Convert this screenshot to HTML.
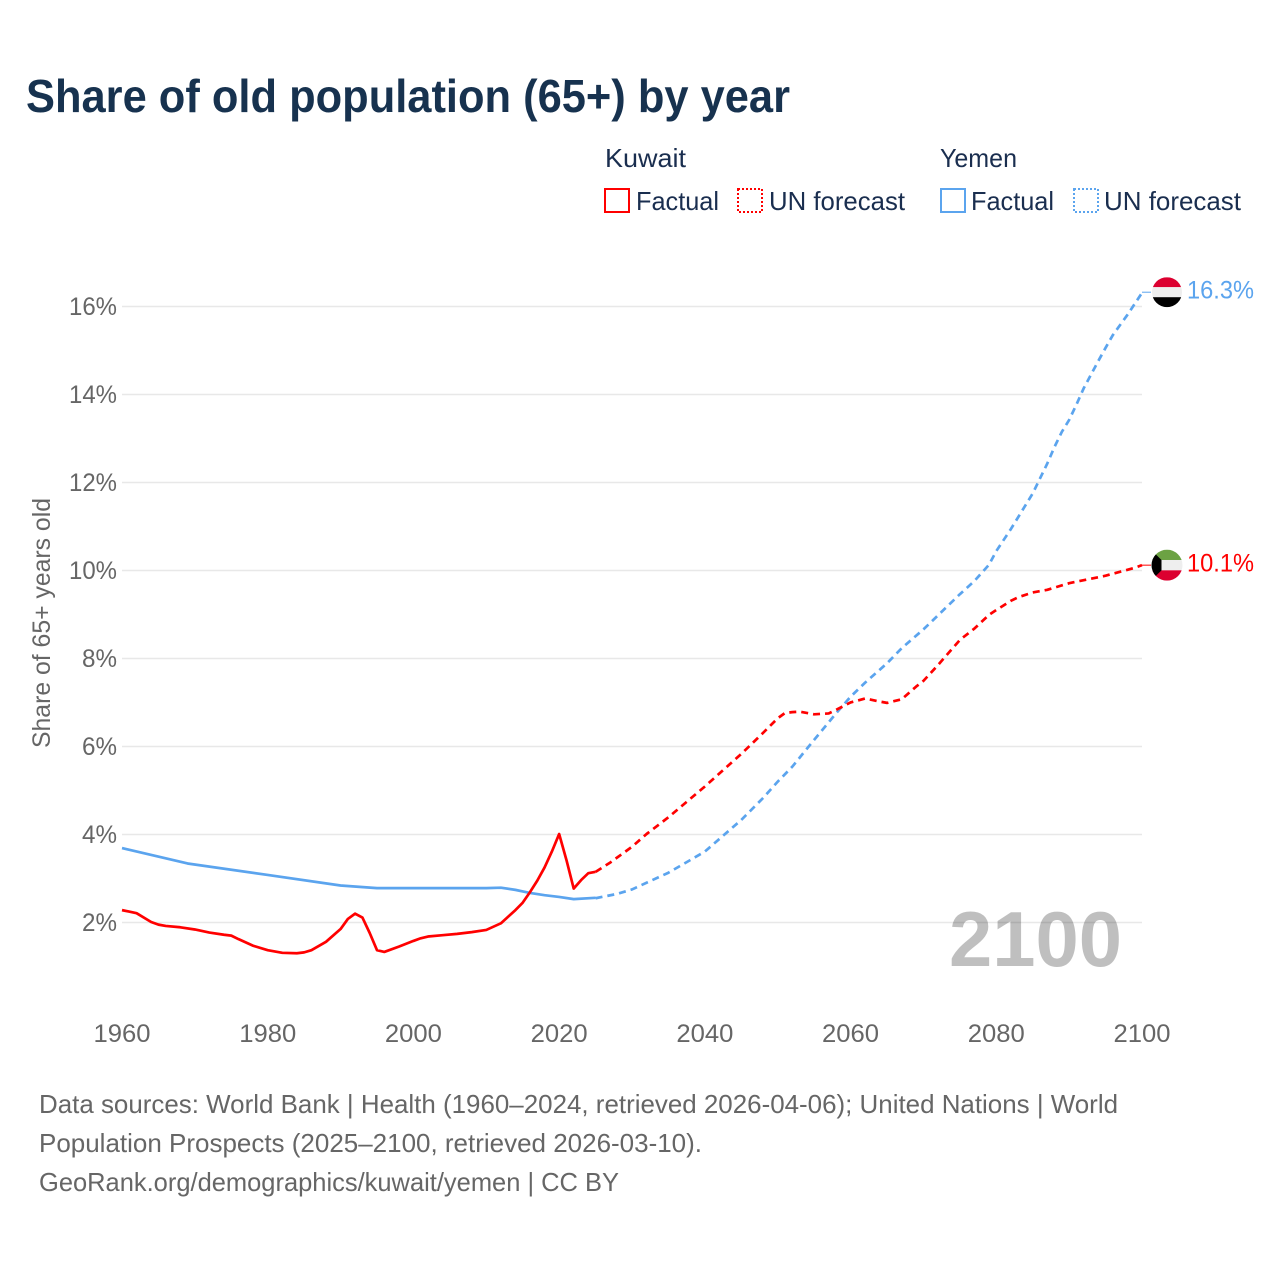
<!DOCTYPE html>
<html lang="en">
<head>
<meta charset="utf-8">
<title>Share of old population (65+) by year</title>
<style>
html,body{margin:0;padding:0;background:#fff;}
svg{display:block;font-family:"Liberation Sans",sans-serif;}
</style>
</head>
<body>
<svg id="chart" xmlns="http://www.w3.org/2000/svg" width="1280" height="1280" viewBox="0 0 1280 1280">
  <rect x="0" y="0" width="1280" height="1280" fill="#ffffff"/>
  <text x="26" y="112" font-size="46" font-weight="700" fill="#17324f" textLength="764" lengthAdjust="spacingAndGlyphs">Share of old population (65+) by year</text>

  <g font-size="26" fill="#1a2e4f">
    <text x="605" y="167" textLength="81" lengthAdjust="spacingAndGlyphs">Kuwait</text>
    <rect x="605" y="189" width="24" height="23" fill="none" stroke="#ff0000" stroke-width="2"/>
    <text x="636" y="210" textLength="83" lengthAdjust="spacingAndGlyphs">Factual</text>
    <rect x="738" y="189" width="24" height="23" fill="none" stroke="#ff0000" stroke-width="2" stroke-dasharray="2 2"/>
    <text x="769" y="210" textLength="136" lengthAdjust="spacingAndGlyphs">UN forecast</text>
    <text x="940" y="167" textLength="77" lengthAdjust="spacingAndGlyphs">Yemen</text>
    <rect x="941" y="189" width="24" height="23" fill="none" stroke="#5ba4ee" stroke-width="2"/>
    <text x="971" y="210" textLength="83" lengthAdjust="spacingAndGlyphs">Factual</text>
    <rect x="1074" y="189" width="24" height="23" fill="none" stroke="#5ba4ee" stroke-width="2" stroke-dasharray="2 2"/>
    <text x="1104" y="210" textLength="137" lengthAdjust="spacingAndGlyphs">UN forecast</text>
  </g>

  <g id="grid"></g>
  <text x="949" y="966" font-size="78" font-weight="700" fill="#000000" fill-opacity="0.25" textLength="173" lengthAdjust="spacingAndGlyphs">2100</text>
  <g id="yticks" font-size="25" fill="#666666" text-anchor="end"></g>
  <g id="xticks" font-size="25" fill="#666666" text-anchor="middle"></g>
  <text transform="translate(50,623) rotate(-90)" font-size="25" fill="#666666" text-anchor="middle" textLength="250" lengthAdjust="spacingAndGlyphs">Share of 65+ years old</text>
  <g id="series"></g>
  <g id="markers"></g>

  <g font-size="26" fill="#666666">
    <text x="39" y="1113" textLength="1079" lengthAdjust="spacingAndGlyphs">Data sources: World Bank | Health (1960–2024, retrieved 2026-04-06); United Nations | World</text>
    <text x="39" y="1152" textLength="663" lengthAdjust="spacingAndGlyphs">Population Prospects (2025–2100, retrieved 2026-03-10).</text>
    <text x="39" y="1191" textLength="580" lengthAdjust="spacingAndGlyphs">GeoRank.org/demographics/kuwait/yemen | CC BY</text>
  </g>
</svg>
<script>
const yTickValues = [2, 4, 6, 8, 10, 12, 14, 16];
const xTickValues = [1960, 1980, 2000, 2020, 2040, 2060, 2080, 2100];

const kuwaitFactualYears = [1960,1962,1964,1965,1966,1968,1970,1972,1974,1975,1976,1978,1980,1982,1984,1985,1986,1988,1990,1991,1992,1993,1994,1995,1996,1998,2000,2001,2002,2004,2006,2008,2010,2012,2014,2015,2016,2017,2018,2019,2020,2021,2022,2023,2024,2025];
const kuwaitFactualValues = [2.27,2.20,2.00,1.94,1.91,1.88,1.83,1.76,1.71,1.69,1.61,1.46,1.36,1.30,1.29,1.31,1.36,1.55,1.84,2.07,2.19,2.10,1.75,1.36,1.32,1.44,1.57,1.63,1.67,1.70,1.73,1.77,1.82,1.97,2.27,2.44,2.68,2.94,3.24,3.60,4.00,3.41,2.76,2.95,3.11,3.14];

const kuwaitForecastYears = [2025,2027,2030,2032,2035,2040,2045,2048,2050,2051,2052,2053,2055,2057,2058,2060,2062,2064,2065,2067,2069,2070,2072,2075,2077,2079,2080,2082,2083,2085,2087,2090,2095,2099,2100];
const kuwaitForecastValues = [3.14,3.35,3.71,4.00,4.38,5.08,5.82,6.30,6.63,6.75,6.77,6.78,6.72,6.74,6.82,6.99,7.08,7.01,6.98,7.06,7.35,7.48,7.84,8.41,8.67,8.98,9.09,9.30,9.38,9.49,9.55,9.70,9.87,10.05,10.11];

const yemenFactualYears = [1960,1969,1980,1990,1995,2000,2010,2012,2014,2016,2018,2020,2022,2025];
const yemenFactualValues = [3.68,3.33,3.07,2.83,2.77,2.77,2.77,2.78,2.73,2.66,2.61,2.57,2.52,2.55];

const yemenForecastYears = [2025,2028,2030,2035,2040,2045,2048,2050,2052,2055,2058,2060,2062,2065,2067,2070,2075,2077,2079,2080,2082,2085,2087,2088,2089,2090,2091,2092,2094,2095,2096,2098,2100];
const yemenForecastValues = [2.54,2.64,2.74,3.12,3.60,4.32,4.82,5.19,5.53,6.14,6.74,7.12,7.44,7.88,8.22,8.65,9.45,9.75,10.12,10.43,10.93,11.74,12.42,12.80,13.14,13.41,13.76,14.13,14.75,15.05,15.34,15.80,16.30];

const kuwaitEndLabel = "10.1%";
const yemenEndLabel = "16.3%";

const SVG_NS = "http://www.w3.org/2000/svg";
function xScale(year) { return 122 + (year - 1960) * (1020 / 140); }
function yScale(value) { return 1010 - value * 44; }
function linePoints(years, values) {
  return years.map(function (yr, i) {
    return xScale(yr).toFixed(2) + "," + yScale(values[i]).toFixed(2);
  }).join(" ");
}

const gridGroup = document.getElementById("grid");
const yGroup = document.getElementById("yticks");
yTickValues.forEach(function (v) {
  const ln = document.createElementNS(SVG_NS, "line");
  
  
  ln.setAttribute("x1", xScale(1960));
  ln.setAttribute("x2", xScale(2100));
  ln.setAttribute("y1", yScale(v) + 0.5);
  ln.setAttribute("y2", yScale(v) + 0.5);
  ln.setAttribute("stroke", "#e8e8e8");
  ln.setAttribute("stroke-width", "1.4");
  gridGroup.appendChild(ln);
  const t = document.createElementNS(SVG_NS, "text");
  
  
  t.setAttribute("x", 117);
  t.setAttribute("y", yScale(v) + 9);
  t.setAttribute("textLength", v >= 10 ? 48 : 35);
  t.setAttribute("lengthAdjust", "spacingAndGlyphs");
  t.textContent = v + "%";
  yGroup.appendChild(t);
});

const xGroup = document.getElementById("xticks");
xTickValues.forEach(function (yr) {
  const t = document.createElementNS(SVG_NS, "text");
  
  
  t.setAttribute("x", xScale(yr));
  t.setAttribute("y", 1042);
  t.setAttribute("textLength", 57);
  t.setAttribute("lengthAdjust", "spacingAndGlyphs");
  t.textContent = yr;
  xGroup.appendChild(t);
});

const seriesGroup = document.getElementById("series");

const yemenFactualLine = document.createElementNS(SVG_NS, "polyline");


yemenFactualLine.setAttribute("points", linePoints(yemenFactualYears, yemenFactualValues));
yemenFactualLine.setAttribute("fill", "none");
yemenFactualLine.setAttribute("stroke", "#5ba4ee");
yemenFactualLine.setAttribute("stroke-width", "2.7");
yemenFactualLine.setAttribute("stroke-linejoin", "round");
seriesGroup.appendChild(yemenFactualLine);

const yemenForecastLine = document.createElementNS(SVG_NS, "polyline");


yemenForecastLine.setAttribute("points", linePoints(yemenForecastYears, yemenForecastValues));
yemenForecastLine.setAttribute("fill", "none");
yemenForecastLine.setAttribute("stroke", "#5ba4ee");
yemenForecastLine.setAttribute("stroke-width", "2.7");
yemenForecastLine.setAttribute("stroke-linejoin", "round");
yemenForecastLine.setAttribute("stroke-dasharray", "7 5");
seriesGroup.appendChild(yemenForecastLine);

const kuwaitFactualLine = document.createElementNS(SVG_NS, "polyline");


kuwaitFactualLine.setAttribute("points", linePoints(kuwaitFactualYears, kuwaitFactualValues));
kuwaitFactualLine.setAttribute("fill", "none");
kuwaitFactualLine.setAttribute("stroke", "#ff0000");
kuwaitFactualLine.setAttribute("stroke-width", "2.7");
kuwaitFactualLine.setAttribute("stroke-linejoin", "round");
seriesGroup.appendChild(kuwaitFactualLine);

const kuwaitForecastLine = document.createElementNS(SVG_NS, "polyline");


kuwaitForecastLine.setAttribute("points", linePoints(kuwaitForecastYears, kuwaitForecastValues));
kuwaitForecastLine.setAttribute("fill", "none");
kuwaitForecastLine.setAttribute("stroke", "#ff0000");
kuwaitForecastLine.setAttribute("stroke-width", "2.7");
kuwaitForecastLine.setAttribute("stroke-linejoin", "round");
kuwaitForecastLine.setAttribute("stroke-dasharray", "7 5");
seriesGroup.appendChild(kuwaitForecastLine);

const markerGroup = document.getElementById("markers");
const endX = xScale(2100);
const flagX = endX + 25;
const yemenY = yScale(yemenForecastValues[yemenForecastValues.length - 1]) - 0.6;
const kuwaitY = yScale(kuwaitForecastValues[kuwaitForecastValues.length - 1]);

const defs = document.createElementNS(SVG_NS, "defs");
const clipA = document.createElementNS(SVG_NS, "clipPath");
clipA.setAttribute("id", "flag-clip-yemen");
const circleA = document.createElementNS(SVG_NS, "circle");
circleA.setAttribute("cx", flagX);
circleA.setAttribute("cy", yemenY);
circleA.setAttribute("r", 15);
clipA.appendChild(circleA);
defs.appendChild(clipA);
const clipB = document.createElementNS(SVG_NS, "clipPath");
clipB.setAttribute("id", "flag-clip-kuwait");
const circleB = document.createElementNS(SVG_NS, "circle");
circleB.setAttribute("cx", flagX);
circleB.setAttribute("cy", kuwaitY);
circleB.setAttribute("r", 15.5);
clipB.appendChild(circleB);
defs.appendChild(clipB);
markerGroup.appendChild(defs);

const yemenStub = document.createElementNS(SVG_NS, "line");


yemenStub.setAttribute("x1", endX);
yemenStub.setAttribute("x2", endX + 9);
yemenStub.setAttribute("y1", yemenY);
yemenStub.setAttribute("y2", yemenY);
yemenStub.setAttribute("stroke", "#5ba4ee");
yemenStub.setAttribute("stroke-width", "1");
markerGroup.appendChild(yemenStub);

const kuwaitStub = document.createElementNS(SVG_NS, "line");


kuwaitStub.setAttribute("x1", endX);
kuwaitStub.setAttribute("x2", endX + 9);
kuwaitStub.setAttribute("y1", kuwaitY);
kuwaitStub.setAttribute("y2", kuwaitY);
kuwaitStub.setAttribute("stroke", "#ff0000");
kuwaitStub.setAttribute("stroke-width", "1");
markerGroup.appendChild(kuwaitStub);

const yemenFlag = document.createElementNS(SVG_NS, "g");


yemenFlag.setAttribute("clip-path", "url(#flag-clip-yemen)");
["#dc0030", "#eeeeee", "#000000"].forEach(function (col, i) {
  const band = document.createElementNS(SVG_NS, "rect");
  
  
  band.setAttribute("x", flagX - 16);
  band.setAttribute("y", yemenY - 15 + i * 10);
  band.setAttribute("width", 32);
  band.setAttribute("height", 10);
  band.setAttribute("fill", col);
  yemenFlag.appendChild(band);
});
markerGroup.appendChild(yemenFlag);

const kuwaitFlag = document.createElementNS(SVG_NS, "g");


kuwaitFlag.setAttribute("clip-path", "url(#flag-clip-kuwait)");
["#6ca243", "#eeeeee", "#dc0030"].forEach(function (col, i) {
  const band = document.createElementNS(SVG_NS, "rect");
  
  
  band.setAttribute("x", flagX - 16);
  band.setAttribute("y", kuwaitY - 15.5 + i * 10.33);
  band.setAttribute("width", 32);
  band.setAttribute("height", 10.4);
  band.setAttribute("fill", col);
  kuwaitFlag.appendChild(band);
});
const hoist = document.createElementNS(SVG_NS, "polygon");


hoist.setAttribute("points",
  (flagX - 16) + "," + (kuwaitY - 15.5) + " " +
  (flagX - 5.5) + "," + (kuwaitY - 5.2) + " " +
  (flagX - 5.5) + "," + (kuwaitY + 5.2) + " " +
  (flagX - 16) + "," + (kuwaitY + 15.5));
hoist.setAttribute("fill", "#000000");
kuwaitFlag.appendChild(hoist);
markerGroup.appendChild(kuwaitFlag);

const yemenValueLabel = document.createElementNS(SVG_NS, "text");


yemenValueLabel.setAttribute("x", 1187);
yemenValueLabel.setAttribute("y", yemenY + 6.5);
yemenValueLabel.setAttribute("font-size", "25");
yemenValueLabel.setAttribute("fill", "#5ba4ee");
yemenValueLabel.setAttribute("textLength", "67");
yemenValueLabel.setAttribute("lengthAdjust", "spacingAndGlyphs");
yemenValueLabel.textContent = yemenEndLabel;
markerGroup.appendChild(yemenValueLabel);

const kuwaitValueLabel = document.createElementNS(SVG_NS, "text");


kuwaitValueLabel.setAttribute("x", 1187);
kuwaitValueLabel.setAttribute("y", kuwaitY + 6.5);
kuwaitValueLabel.setAttribute("font-size", "25");
kuwaitValueLabel.setAttribute("fill", "#ff0000");
kuwaitValueLabel.setAttribute("textLength", "67");
kuwaitValueLabel.setAttribute("lengthAdjust", "spacingAndGlyphs");
kuwaitValueLabel.textContent = kuwaitEndLabel;
markerGroup.appendChild(kuwaitValueLabel);
</script>
</body>
</html>
